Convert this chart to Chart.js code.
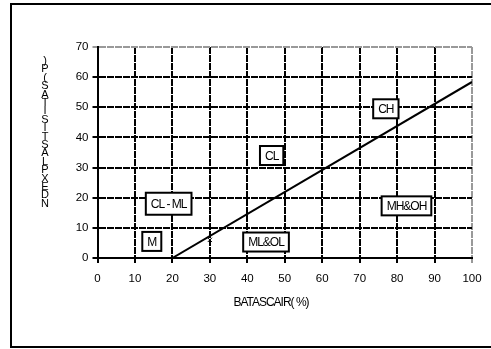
<!DOCTYPE html>
<html>
<head>
<meta charset="utf-8">
<script src="https://cdn.jsdelivr.net/npm/chart.js@4.4.0/dist/chart.umd.min.js"></script>
<style>
  html, body { margin: 0; padding: 0; background: #fff; }
  #wrap { width: 491px; height: 349px; }
</style>
</head>
<body>
<div id="wrap"><canvas id="plasticity"></canvas></div>
<script>
// Garis A: PI = 0.73 (LL - 20)
const aLineX = [20, 100];
const aLineY = [0, 58.4];

// titik sampel
const sampleX = [30];
const sampleY = [6];

// label zona
const zoneLabels = ['CH', 'CL', 'CL - ML', 'M', 'ML&OL', 'MH&OH'];
const zoneX = [77, 46.5, 19, 14.5, 45, 82.5];
const zoneY = [49.5, 34, 18, 5.5, 5.3, 17.3];

const xTicks = [0, 10, 20, 30, 40, 50, 60, 70, 80, 90, 100];
const yTicks = [0, 10, 20, 30, 40, 50, 60, 70];

const xTitle = 'BATASCAIR( %)';
const yTitleStack = ')P(SATISITSALPXEDN';

const FONT = '"Liberation Sans", Arial, sans-serif';

// bingkai luar + judul sumbu + kotak label
const decorPlugin = {
    id: 'decor',
    beforeDraw(chart) {
        const ctx = chart.ctx;
        ctx.save();
        ctx.fillStyle = '#fff';
        ctx.fillRect(0, 0, chart.width, chart.height);
        ctx.strokeStyle = '#000';
        ctx.lineWidth = 2;
        ctx.beginPath();
        ctx.moveTo(500, 4);
        ctx.lineTo(11, 4);
        ctx.lineTo(11, 347);
        ctx.lineTo(500, 347);
        ctx.stroke();
        ctx.restore();
    },
    afterDatasetsDraw(chart) {
        const ctx = chart.ctx;
        const xs = chart.scales.x, ys = chart.scales.y;
        ctx.save();
        ctx.font = '12px ' + FONT;
        ctx.letterSpacing = '-1px';
        ctx.textAlign = 'center';
        ctx.textBaseline = 'middle';
        zoneLabels.forEach((lbl, i) => {
            const cx = xs.getPixelForValue(zoneX[i]);
            const cy = ys.getPixelForValue(zoneY[i]);
            const w = ctx.measureText(lbl).width + 10;
            const h = i === 2 ? 22 : 19;
            ctx.fillStyle = '#fff';
            ctx.fillRect(cx - w / 2, cy - h / 2, w, h);
            ctx.strokeStyle = '#000';
            ctx.lineWidth = 2;
            ctx.strokeRect(cx - w / 2, cy - h / 2, w, h);
            ctx.fillStyle = '#000';
            ctx.fillText(lbl, cx, cy + 1);
        });

        // judul sumbu x
        ctx.fillText(xTitle, 271, 303);

        // judul sumbu y, huruf ditumpuk
        ctx.font = '11px ' + FONT;
        ctx.letterSpacing = '0px';
        for (let i = 0; i < yTitleStack.length; i++) {
            ctx.fillText(yTitleStack[i], 45, 61 + i * 8.4);
        }
        ctx.restore();
    }
};

const gridColor = (edge) => (c) => (c.tick && c.tick.value === edge ? '#999' : '#000');

new Chart(document.getElementById('plasticity'), {
    type: 'scatter',
    data: {
        datasets: [{
            data: aLineX.map((x, i) => ({ x: x, y: aLineY[i] })),
            showLine: true,
            borderColor: '#000',
            borderWidth: 2,
            pointRadius: 0
        }, {
            data: sampleX.map((x, i) => ({ x: x, y: sampleY[i] })),
            pointStyle: 'crossRot',
            pointRadius: 3,
            borderColor: '#000',
            borderWidth: 1
        }]
    },
    options: {
        responsive: true,
        maintainAspectRatio: false,
        animation: false,
        layout: { padding: { left: 12, top: 47, right: 19, bottom: 0 } },
        plugins: { legend: { display: false }, tooltip: { enabled: false } },
        scales: {
            x: {
                type: 'linear',
                min: 0, max: 100,
                afterBuildTicks: (s) => { s.ticks = xTicks.map(v => ({ value: v })); },
                afterFit: (s) => { s.height = 91; },
                grid: { color: gridColor(100), lineWidth: 2, tickLength: 5 },
                border: { color: '#000', width: 2, dash: [7, 1] },
                ticks: { color: '#000', padding: 9, font: { family: FONT, size: 11.5 }, maxRotation: 0 }
            },
            y: {
                type: 'linear',
                min: 0, max: 70,
                afterBuildTicks: (s) => { s.ticks = yTicks.map(v => ({ value: v })); },
                afterFit: (s) => { s.width = 85.5; },
                grid: { color: gridColor(70), lineWidth: 2, tickLength: 5 },
                border: { color: '#000', width: 2, dash: [7, 1] },
                ticks: { color: '#000', padding: 4, font: { family: FONT, size: 11.5 } }
            }
        }
    },
    plugins: [decorPlugin]
});
</script>
</body>
</html>
